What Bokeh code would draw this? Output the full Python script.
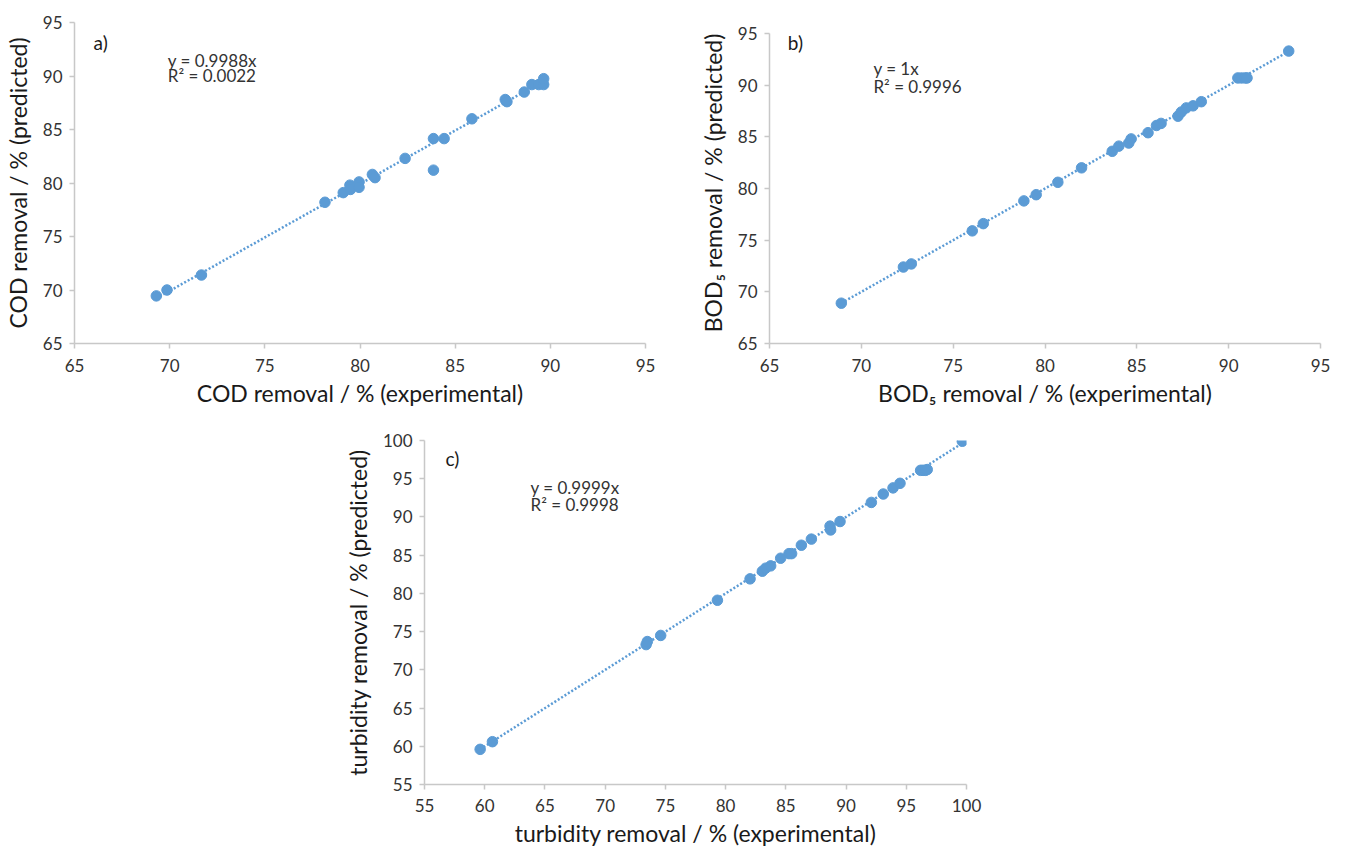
from bokeh.plotting import figure
from bokeh.models import Label, FixedTicker, Spacer
from bokeh.layouts import column, row
from bokeh.embed import file_html
from bokeh.resources import INLINE

# ---- data ----
cod_exp = [69.30, 69.86, 71.67, 78.16, 79.12, 79.47, 79.50, 79.95, 79.95, 80.65, 80.79,
           82.37, 83.86, 84.42, 83.86, 85.88, 87.63, 87.72, 88.63, 89.03, 89.39, 89.65, 89.65]
cod_pred = [69.45, 70.00, 71.40, 78.20, 79.10, 79.80, 79.40, 80.10, 79.60, 80.80, 80.50,
            82.30, 84.15, 84.15, 81.20, 86.00, 87.80, 87.60, 88.50, 89.20, 89.20, 89.20, 89.75]
cod_slope = 0.9988

bod_exp = [68.91, 72.29, 72.72, 76.04, 76.64, 78.85, 79.52, 80.70, 81.99, 83.66, 84.02, 84.56,
           84.69, 85.61, 86.07, 86.32, 87.24, 87.42, 87.69, 88.06, 88.51, 90.50, 90.70, 90.90,
           91.00, 93.27]
bod_pred = [68.90, 72.40, 72.70, 75.90, 76.60, 78.80, 79.40, 80.60, 82.00, 83.60, 84.10, 84.40,
            84.80, 85.40, 86.10, 86.30, 87.00, 87.40, 87.80, 88.00, 88.40, 90.70, 90.70, 90.70,
            90.70, 93.30]
bod_slope = 1.0

tur_exp = [59.62, 60.64, 73.40, 73.50, 74.61, 79.32, 82.03, 83.05, 83.33, 83.74, 84.57, 85.26,
           85.48, 86.29, 87.12, 88.67, 88.72, 89.50, 92.10, 93.09, 93.90, 94.48, 96.19, 96.40,
           96.60, 96.74, 99.65]
tur_pred = [59.60, 60.60, 73.30, 73.70, 74.50, 79.10, 81.90, 82.90, 83.30, 83.60, 84.60, 85.20,
            85.20, 86.30, 87.10, 88.80, 88.30, 89.40, 91.90, 93.00, 93.80, 94.40, 96.10, 96.10,
            96.10, 96.20, 99.90]
tur_slope = 0.9999

ab_ticks = [65, 70, 75, 80, 85, 90, 95]
c_ticks = [55, 60, 65, 70, 75, 80, 85, 90, 95, 100]

BLUE = "#5B9BD5"
FONT = "Lato"


def make_panel(xs, ys, slope, lo, hi, ticks, xlabel, ylabel, tag, eq, r2,
               fw, fh, bl, br, bt, bb, tag_xy, eq_x, eq_y1, eq_y2, ytop=None,
               xstand=10):
    p = figure(frame_width=fw, frame_height=fh, x_range=(lo, hi),
               y_range=(lo, hi if ytop is None else ytop),
               output_backend="svg", toolbar_location=None,
               min_border_left=bl, min_border_right=br,
               min_border_top=bt, min_border_bottom=bb)
    p.grid.visible = False
    p.outline_line_color = None
    p.background_fill_color = "white"
    p.border_fill_color = "white"
    for ax in (p.xaxis[0], p.yaxis[0]):
        ax.ticker = FixedTicker(ticks=ticks)
        ax.bounds = (lo, hi)
        ax.axis_line_color = "#c8c8c8"
        ax.axis_line_width = 1.5
        ax.major_tick_line_color = "#c8c8c8"
        ax.major_tick_line_width = 1.5
        ax.major_tick_out = 5
        ax.major_tick_in = 0
        ax.minor_tick_line_color = None
        ax.major_label_text_font = FONT
        ax.major_label_text_font_size = "17px"
        ax.major_label_text_color = "#333333"
        ax.axis_label_text_font = FONT
        ax.axis_label_text_font_size = "23px"
        ax.axis_label_text_font_style = "normal"
        ax.axis_label_text_color = "#1a1a1a"
    p.xaxis.major_label_standoff = xstand
    p.yaxis.major_label_standoff = 7
    p.xaxis.axis_label_standoff = 4
    p.yaxis.axis_label_standoff = 8
    p.xaxis.axis_label = xlabel
    p.yaxis.axis_label = ylabel

    x0, x1 = min(xs), max(xs)
    p.line([x0, x1], [slope * x0, slope * x1], line_color=BLUE, line_width=2.5,
           line_dash="2 2")
    p.scatter(xs, ys, size=10.5, fill_color=BLUE, line_color=BLUE)

    p.add_layout(Label(x=tag_xy[0], y=tag_xy[1], text=tag, text_font=FONT,
                       text_font_size="19px", text_color="#1a1a1a",
                       text_baseline="middle", text_align="left"))
    p.add_layout(Label(x=eq_x, y=eq_y1, text=eq, text_font=FONT,
                       text_font_size="17px", text_color="#333333",
                       text_baseline="middle", text_align="left"))
    p.add_layout(Label(x=eq_x, y=eq_y2, text=r2, text_font=FONT,
                       text_font_size="17px", text_color="#333333",
                       text_baseline="middle", text_align="left"))
    return p


pa = make_panel(cod_exp, cod_pred, cod_slope, 65, 95, ab_ticks,
                "COD removal / % (experimental)", "COD removal / % (predicted)",
                "a)", "y = 0.9988x", "R² = 0.0022",
                fw=571, fh=321, bl=66, br=35, bt=22, bb=68,
                tag_xy=(66.0, 93.1), eq_x=69.9, eq_y1=91.45, eq_y2=90.05)

pb = make_panel(bod_exp, bod_pred, bod_slope, 65, 95, ab_ticks,
                "BOD₅ removal / % (experimental)", "BOD₅ removal / % (predicted)",
                "b)", "y = 1x", "R² = 0.9996",
                fw=551, fh=321, bl=89, br=15, bt=22, bb=68,
                tag_xy=(66.0, 94.1), eq_x=70.66, eq_y1=91.6, eq_y2=89.9,
                ytop=96.065)

pc = make_panel(tur_exp, tur_pred, tur_slope, 55, 100, c_ticks,
                "turbidity removal / % (experimental)", "turbidity removal / % (predicted)",
                "c)", "y = 0.9999x", "R² = 0.9998",
                fw=542, fh=344, bl=92, br=26, bt=29, bb=66,
                tag_xy=(56.74, 97.7), eq_x=63.8, eq_y1=93.8, eq_y2=91.65, xstand=9)

layout = column(row(pa, pb), row(Spacer(width=332, height=439), pc))

open("out.html", "w").write(file_html(layout, INLINE))
